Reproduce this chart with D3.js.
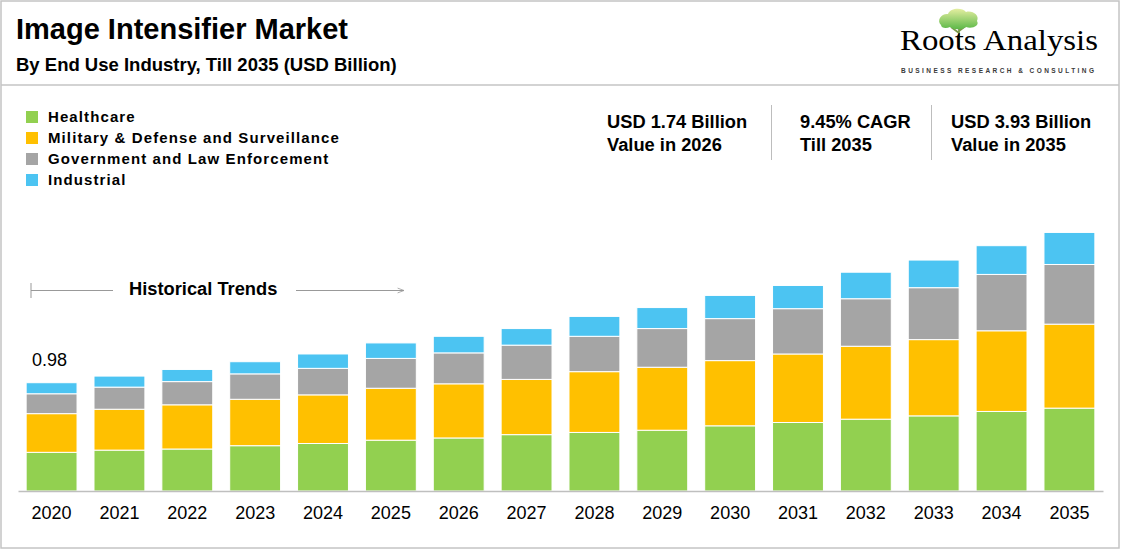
<!DOCTYPE html>
<html>
<head>
<meta charset="utf-8">
<script src="https://cdn.jsdelivr.net/npm/d3@7"></script>
<style>
  body { margin: 0; background: #fff; }
  text { font-family: "Liberation Sans", Arial, sans-serif; fill: #000; }
</style>
</head>
<body>
<div id="chart"></div>
<script>
// Data (USD Billion)
const years = ["2020", "2021", "2022", "2023", "2024", "2025", "2026", "2027",
               "2028", "2029", "2030", "2031", "2032", "2033", "2034", "2035"];
const segments = ["Healthcare", "Military & Defense and Surveillance",
                  "Government and Law Enforcement", "Industrial"];
const healthcare = [0.35, 0.37, 0.38, 0.41, 0.43, 0.46, 0.48, 0.51, 0.53, 0.55, 0.59, 0.62, 0.65, 0.68, 0.72, 0.75];
const military   = [0.35, 0.37, 0.40, 0.42, 0.44, 0.47, 0.49, 0.50, 0.55, 0.57, 0.59, 0.62, 0.66, 0.69, 0.73, 0.76];
const government = [0.18, 0.20, 0.21, 0.23, 0.24, 0.27, 0.28, 0.31, 0.32, 0.35, 0.38, 0.41, 0.43, 0.47, 0.51, 0.54];
const industrial = [0.10, 0.10, 0.11, 0.11, 0.13, 0.14, 0.15, 0.15, 0.18, 0.19, 0.21, 0.21, 0.24, 0.25, 0.26, 0.29];
const kpis = [
    ["USD 1.74 Billion", "Value in 2026"],
    ["9.45% CAGR", "Till 2035"],
    ["USD 3.93 Billion", "Value in 2035"]
];

const W = 1123, H = 553;
const baseline = 491;

const color = d3.scaleOrdinal()
    .domain(segments)
    .range(["#92d050", "#ffc000", "#a5a5a5", "#4cc4f2"]);

const svg = d3.select("#chart")
    .append("svg")
    .attr("width", W)
    .attr("height", H);

const defs = svg.append("defs");

// Frame and header divider
svg.append("rect")
    .attr("x", 1).attr("y", 1)
    .attr("width", 1118).attr("height", 547)
    .attr("fill", "none")
    .attr("stroke", "#c4c4c4")
    .attr("stroke-width", 1.5);

svg.append("line")
    .attr("x1", 1).attr("x2", 1119)
    .attr("y1", 85).attr("y2", 85)
    .attr("stroke", "#c4c4c4")
    .attr("stroke-width", 1.5);

// Title
svg.append("text")
    .attr("x", 16).attr("y", 39)
    .style("font-size", "29px")
    .style("font-weight", "bold")
    .text("Image Intensifier Market");

svg.append("text")
    .attr("x", 16).attr("y", 71)
    .style("font-size", "18.5px")
    .style("font-weight", "bold")
    .text("By End Use Industry, Till 2035 (USD Billion)");

// Logo (tree + wordmark)
const logo = svg.append("g");
const grad = defs.append("linearGradient")
    .attr("id", "leaf").attr("x1", 0).attr("y1", 0).attr("x2", 0).attr("y2", 1);
grad.append("stop").attr("offset", "0%").attr("stop-color", "#e4eea0");
grad.append("stop").attr("offset", "100%").attr("stop-color", "#5cb848");
logo.append("path")
    .attr("d", "M959,24 L959,47 M959,33 L951,27 M959,31 L967,25")
    .attr("stroke", "#7a9a4a").attr("stroke-width", 1.8).attr("fill", "none");
logo.append("path")
    .attr("d", "M941,25 C936,20 942,13 948,14 C950,8 962,7 966,12 C972,10 980,15 977,21 C980,26 972,29 966,27 C962,30 954,30 950,27 C946,29 941,28 941,25 Z")
    .attr("fill", "url(#leaf)");
logo.append("text")
    .attr("x", 900).attr("y", 50)
    .attr("textLength", 198)
    .attr("lengthAdjust", "spacingAndGlyphs")
    .style("font-family", "'Liberation Serif', 'DejaVu Serif', serif")
    .style("font-size", "30px")
    .text("Roots Analysis");
logo.append("text")
    .attr("x", 901).attr("y", 72.5)
    .attr("textLength", 193)
    .style("font-size", "6.5px")
    .style("font-weight", "bold")
    .style("fill", "#3a3a3a")
    .text("BUSINESS RESEARCH & CONSULTING");

// Legend
const legend = svg.append("g")
    .selectAll("g")
    .data(segments)
    .enter()
    .append("g")
    .attr("transform", (d, i) => `translate(26, ${111 + i * 21})`);

legend.append("rect")
    .attr("width", 12).attr("height", 12)
    .attr("fill", d => color(d));

legend.append("text")
    .attr("x", 22).attr("y", 11)
    .style("font-size", "15px")
    .style("font-weight", "bold")
    .style("letter-spacing", "1.1px")
    .text(d => d);

// KPI boxes
const kpiX = [607, 800, 951];
kpis.forEach((k, i) => {
    k.forEach((line, j) => {
        svg.append("text")
            .attr("x", kpiX[i]).attr("y", 128 + j * 23)
            .style("font-size", "18.3px")
            .style("font-weight", "bold")
            .text(line);
    });
});
[771.5, 931.5].forEach(x => {
    svg.append("line")
        .attr("x1", x).attr("x2", x)
        .attr("y1", 105).attr("y2", 160)
        .attr("stroke", "#bdbdbd");
});

// Scales
const x = d3.scaleBand()
    .domain(years)
    .range([18, 1103])
    .paddingInner(0.25)
    .paddingOuter(0.12);

const y = d3.scaleLinear()
    .domain([0, 2.5])
    .range([baseline, baseline - 2.5 * 110.5]);

// Stacked bars
const table = years.map((yr, i) => ({
    year: yr,
    [segments[0]]: healthcare[i],
    [segments[1]]: military[i],
    [segments[2]]: government[i],
    [segments[3]]: industrial[i]
}));

const series = d3.stack().keys(segments)(table);

svg.append("g")
    .selectAll("g")
    .data(series)
    .enter()
    .append("g")
    .attr("fill", d => color(d.key))
    .selectAll("rect")
    .data(d => d)
    .enter()
    .append("rect")
    .attr("x", d => x(d.data.year))
    .attr("y", d => y(d[1]))
    .attr("width", x.bandwidth())
    .attr("height", d => y(d[0]) - y(d[1]))
    .attr("stroke", "#fff")
    .attr("stroke-width", 1);

// X axis
const xAxis = svg.append("g")
    .attr("transform", `translate(0, ${baseline})`)
    .call(d3.axisBottom(x).tickSize(0).tickPadding(15));
xAxis.select(".domain").attr("stroke", "#bfbfbf").attr("stroke-width", 1.5);
xAxis.selectAll("text")
    .style("font-size", "18px")
    .style("font-family", "'Liberation Sans', Arial, sans-serif")
    .attr("fill", "#000");

// First value label
const total2020 = healthcare[0] + military[0] + government[0] + industrial[0];
svg.append("text")
    .attr("x", 32).attr("y", y(total2020) - 17)
    .style("font-size", "18px")
    .text(d3.format(".2f")(total2020));

// Historical trends marker
defs.append("marker")
    .attr("id", "arrow")
    .attr("viewBox", "0 0 10 10")
    .attr("refX", 9).attr("refY", 5)
    .attr("markerWidth", 8).attr("markerHeight", 8)
    .attr("orient", "auto")
    .append("path")
    .attr("d", "M1,2 L9,5 L1,8")
    .attr("fill", "none")
    .attr("stroke", "#999");

svg.append("line")
    .attr("x1", 31).attr("x2", 31)
    .attr("y1", 283).attr("y2", 298)
    .attr("stroke", "#999");
svg.append("line")
    .attr("x1", 31).attr("x2", 113)
    .attr("y1", 290.5).attr("y2", 290.5)
    .attr("stroke", "#999");
svg.append("line")
    .attr("x1", 296).attr("x2", 404)
    .attr("y1", 290.5).attr("y2", 290.5)
    .attr("stroke", "#999")
    .attr("marker-end", "url(#arrow)");
svg.append("text")
    .attr("x", 129).attr("y", 295)
    .style("font-size", "18.3px")
    .style("font-weight", "bold")
    .text("Historical Trends");
</script>
</body>
</html>
